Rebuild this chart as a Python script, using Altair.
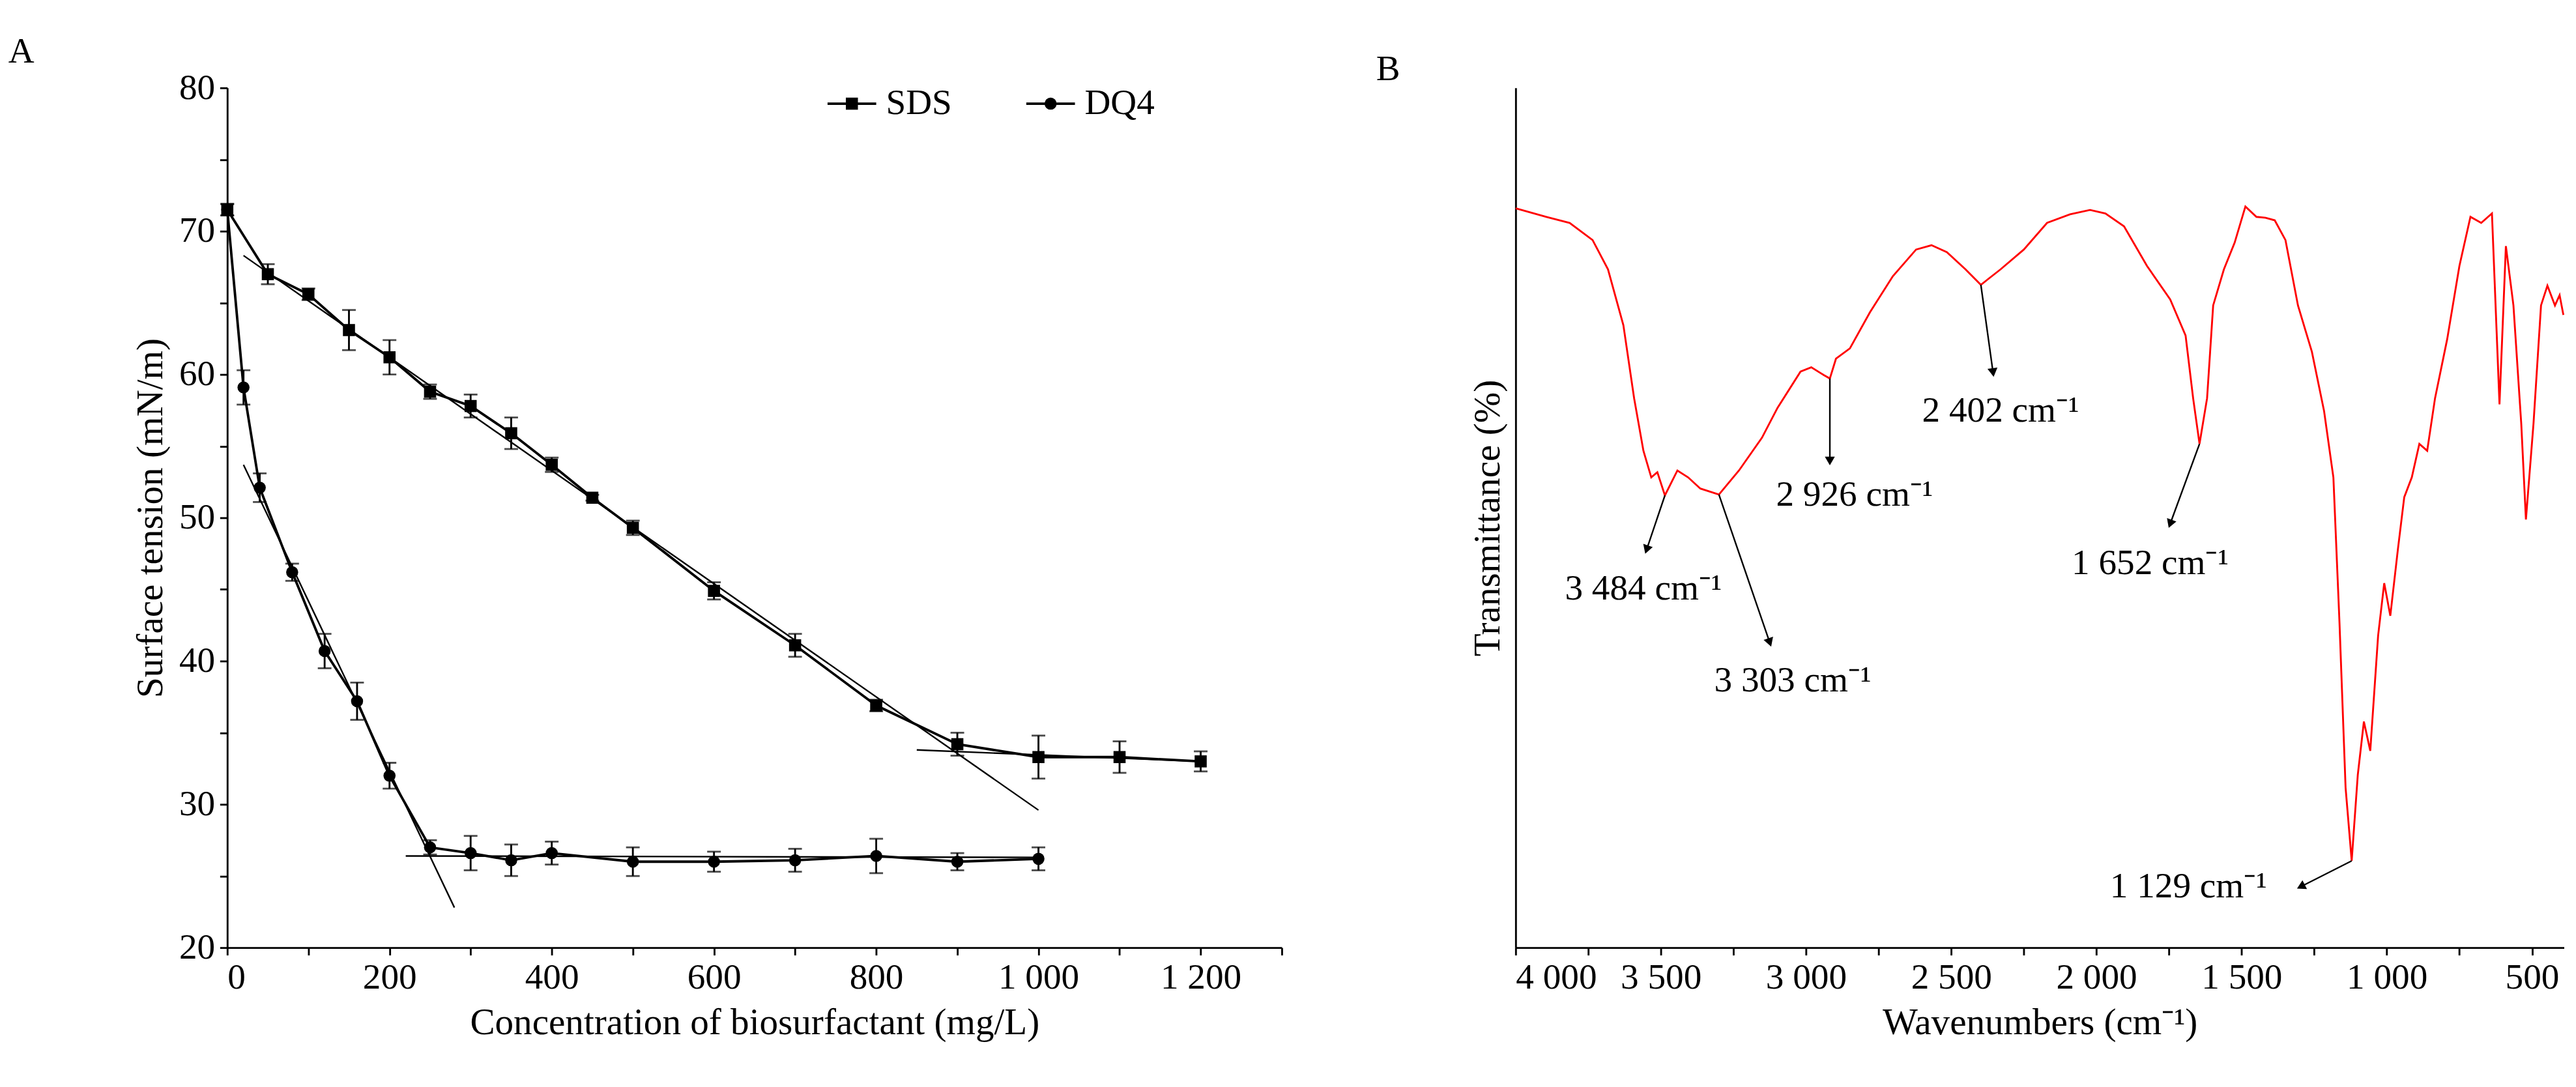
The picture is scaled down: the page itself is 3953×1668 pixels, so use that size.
import math
import altair as alt
import pandas as pd

FONT = "Liberation Serif"

# Panel A: surface tension
sds_x = [0, 50, 100, 150, 200, 250, 300, 350, 400, 450, 500, 600, 700, 800, 900, 1000, 1100, 1200]
sds_y = [71.5, 67.0, 65.6, 63.1, 61.2, 58.8, 57.8, 55.9, 53.7, 51.4, 49.3, 44.9, 41.1, 36.9, 34.2, 33.3, 33.3, 33.0]
sds_err = [0.4, 0.7, 0.4, 1.4, 1.2, 0.5, 0.8, 1.1, 0.5, 0.2, 0.5, 0.6, 0.8, 0.4, 0.8, 1.5, 1.1, 0.7]

dq4_x = [0, 20, 40, 80, 120, 160, 200, 250, 300, 350, 400, 500, 600, 700, 800, 900, 1000]
dq4_y = [71.5, 59.1, 52.1, 46.2, 40.7, 37.2, 32.0, 27.0, 26.6, 26.1, 26.6, 26.0, 26.0, 26.1, 26.4, 26.0, 26.2]
dq4_err = [0.4, 1.2, 1.0, 0.6, 1.2, 1.3, 0.9, 0.5, 1.2, 1.1, 0.8, 1.0, 0.7, 0.8, 1.2, 0.6, 0.8]

fit_group = ["s1", "s1", "s2", "s2", "d1", "d1", "d2", "d2"]
fit_x = [20, 1000, 850, 1200, 20, 280, 220, 1000]
fit_y = [68.3, 29.6, 33.8, 33.0, 53.7, 22.8, 26.4, 26.3]

legend_names = ["SDS", "DQ4"]
legend_x = [740, 985]
legend_y = [78.9, 78.9]

# Panel B: FTIR spectrum
wn = [4000, 3894, 3814, 3735, 3682, 3629, 3592, 3560, 3533, 3512, 3486, 3443, 3406, 3364, 3300,
      3231, 3152, 3098, 3019, 2982, 2939, 2918, 2897, 2849, 2780, 2701, 2621, 2568, 2515, 2451,
      2398, 2330, 2250, 2170, 2091, 2022, 1969, 1905, 1826, 1746, 1693, 1667, 1645, 1619, 1598,
      1561, 1524, 1487, 1449, 1418, 1386, 1349, 1306, 1258, 1216, 1184, 1163, 1142, 1121, 1100,
      1079, 1057, 1030, 1009, 988, 962, 940, 914, 888, 861, 834, 792, 750, 712, 675, 638, 612,
      590, 564, 537, 521, 495, 469, 447, 421, 405, 392]
trans = [86.0, 85.0, 84.3, 82.3, 78.9, 72.4, 63.9, 57.8, 54.7, 55.3, 52.6, 55.5, 54.7, 53.4, 52.7,
         55.5, 59.3, 62.8, 67.0, 67.5, 66.6, 66.2, 68.5, 69.7, 73.9, 78.1, 81.2, 81.7, 80.9, 78.9,
         77.1, 78.9, 81.2, 84.3, 85.3, 85.8, 85.4, 83.9, 79.3, 75.4, 71.2, 63.9, 58.6, 63.9, 74.7,
         78.9, 82.0, 86.2, 85.0, 84.9, 84.6, 82.3, 74.7, 69.3, 62.4, 54.7, 37.8, 18.6, 10.1, 20.1,
         26.3, 22.9, 36.3, 42.4, 38.6, 46.3, 52.4, 54.7, 58.6, 57.8, 63.9, 70.8, 79.3, 85.0, 84.3, 85.4, 63.2,
         81.6, 74.7, 60.9, 49.8, 60.9, 74.7, 77.0, 74.7, 75.9, 73.6]

peak_labels = ["3 484 cm⁻¹", "3 303 cm⁻¹", "2 926 cm⁻¹", "2 402 cm⁻¹", "1 652 cm⁻¹", "1 129 cm⁻¹"]
arrow_x0 = [3486, 3300, 2918, 2398, 1645, 1121]
arrow_y0 = [52.6, 52.7, 66.2, 77.1, 58.6, 10.1]
arrow_x1 = [3549, 3125, 2918, 2356, 1746, 1296]
arrow_y1 = [46.3, 35.5, 56.6, 66.9, 49.3, 7.1]
label_x = [3560, 3046, 2833, 2330, 1815, 1683]
label_y = [41.7, 31.0, 52.6, 62.4, 44.7, 7.1]

A_W, B_W, H = 1700, 1690, 1386
B_MIN, B_MAX = 390, 4000

num_expr = ("datum.value >= 1000 ? floor(datum.value / 1000) + ' ' + format(datum.value % 1000, '03d')"
            " : '' + datum.value")

# ---------- Panel A ----------
pts = pd.DataFrame({
    "x": sds_x + dq4_x,
    "y": sds_y + dq4_y,
    "lo": [v - e for v, e in zip(sds_y, sds_err)] + [v - e for v, e in zip(dq4_y, dq4_err)],
    "hi": [v + e for v, e in zip(sds_y, sds_err)] + [v + e for v, e in zip(dq4_y, dq4_err)],
    "s": ["SDS"] * len(sds_x) + ["DQ4"] * len(dq4_x),
})
xA = alt.X("x:Q", scale=alt.Scale(domain=[0, 1300], nice=False),
           axis=alt.Axis(values=list(range(0, 1301, 100)), labelExpr=f"datum.value % 200 == 0 ? {num_expr} : ''",
                         title="Concentration of biosurfactant (mg/L)", grid=False))
yA = alt.Y("y:Q", scale=alt.Scale(domain=[20, 80], nice=False),
           axis=alt.Axis(values=list(range(20, 81, 5)), labelExpr="datum.value % 10 == 0 ? datum.label : ''",
                         title="Surface tension (mN/m)", grid=False))
shape_scale = alt.Scale(domain=["SDS", "DQ4"], range=["square", "circle"])

base = alt.Chart(pts)
lines = base.mark_line(color="black", strokeWidth=4).encode(x=xA, y=yA, detail="s:N")
bars = base.mark_errorbar(ticks={"size": 22, "strokeWidth": 3}, color="black", thickness=3).encode(
    x="x:Q", y=alt.Y("lo:Q", title="Surface tension (mN/m)"), y2="hi:Q")
marks = base.mark_point(filled=True, opacity=1, size=380, color="black").encode(
    x="x:Q", y="y:Q", shape=alt.Shape("s:N", scale=shape_scale, legend=None))

fits = alt.Chart(pd.DataFrame({"g": fit_group, "x": fit_x, "y": fit_y})).mark_line(
    color="black", strokeWidth=2.5).encode(x="x:Q", y="y:Q", detail="g:N")

leg = pd.DataFrame({"s": legend_names, "x": legend_x, "y": legend_y})
leg_line = alt.Chart(leg).transform_calculate(xe="datum.x + 60").mark_rule(color="black", strokeWidth=4).encode(
    x="x:Q", x2="xe:Q", y="y:Q")
leg_pt = alt.Chart(leg).transform_calculate(xm="datum.x + 30").mark_point(
    filled=True, opacity=1, size=380, color="black").encode(
    x="xm:Q", y="y:Q", shape=alt.Shape("s:N", scale=shape_scale, legend=None))
leg_txt = alt.Chart(leg).transform_calculate(xt="datum.x + 72").mark_text(
    align="left", baseline="middle", fontSize=58, font=FONT).encode(x="xt:Q", y="y:Q", text="s:N")

panelA = alt.layer(lines, fits, bars, marks, leg_line, leg_pt, leg_txt).properties(
    width=A_W, height=H,
    title=alt.TitleParams("A", anchor="start", dx=-200, fontSize=58, font=FONT, fontWeight="normal", offset=0))

# ---------- Panel B ----------
px_per_wn = B_W / (B_MAX - B_MIN)
px_per_t = H / 100
angles = []
for a0, b0, a1, b1 in zip(arrow_x0, arrow_y0, arrow_x1, arrow_y1):
    dx = -(a1 - a0) * px_per_wn
    dy = -(b1 - b0) * px_per_t
    angles.append(math.degrees(math.atan2(dx, -dy)) % 360)

xB_scale = alt.Scale(domain=[B_MIN, B_MAX], reverse=True, nice=False)
yB_scale = alt.Scale(domain=[0, 100], nice=False)
xB = alt.X("wn:Q", scale=xB_scale,
           axis=alt.Axis(values=list(range(500, 4001, 250)), labelExpr=f"datum.value % 500 == 0 ? {num_expr} : ''",
                         title="Wavenumbers (cm⁻¹)", grid=False))
yB = alt.Y("t:Q", scale=yB_scale, axis=alt.Axis(labels=False, ticks=False, title="Transmittance (%)", grid=False))

spec = alt.Chart(pd.DataFrame({"wn": wn, "t": trans})).mark_line(color="red", strokeWidth=3).encode(x=xB, y=yB)
ann = pd.DataFrame({"lab": peak_labels, "x0": arrow_x0, "y0": arrow_y0, "x1": arrow_x1, "y1": arrow_y1,
                    "lx": label_x, "ly": label_y, "ang": angles})
arrows = alt.Chart(ann).mark_rule(color="black", strokeWidth=2.5).encode(
    x=alt.X("x0:Q", scale=xB_scale), x2="x1:Q", y=alt.Y("y0:Q", scale=yB_scale), y2="y1:Q")
heads = alt.Chart(ann).mark_point(shape="triangle-up", filled=True, opacity=1, size=260, color="black").encode(
    x=alt.X("x1:Q", scale=xB_scale), y=alt.Y("y1:Q", scale=yB_scale), angle=alt.Angle("ang:Q", scale=None))
labels = alt.Chart(ann).mark_text(fontSize=58, font=FONT, align="center", baseline="middle").encode(
    x=alt.X("lx:Q", scale=xB_scale), y=alt.Y("ly:Q", scale=yB_scale), text="lab:N")

panelB = alt.layer(spec, arrows, heads, labels).properties(
    width=B_W, height=H,
    title=alt.TitleParams("B", anchor="start", dx=-150, fontSize=58, font=FONT, fontWeight="normal", offset=0))

chart = alt.hconcat(panelA, panelB, spacing=150).configure(background="white").configure_view(
    stroke=None).configure_axis(
    labelFont=FONT, titleFont=FONT, labelFontSize=58, titleFontSize=60, titleFontWeight="normal",
    labelColor="black", titleColor="black", domainColor="black", tickColor="black",
    domainWidth=3, tickWidth=3, tickSize=12, labelPadding=8, titlePadding=14,
)

chart.save("out.html", embed_options={"renderer": "svg", "actions": False})
